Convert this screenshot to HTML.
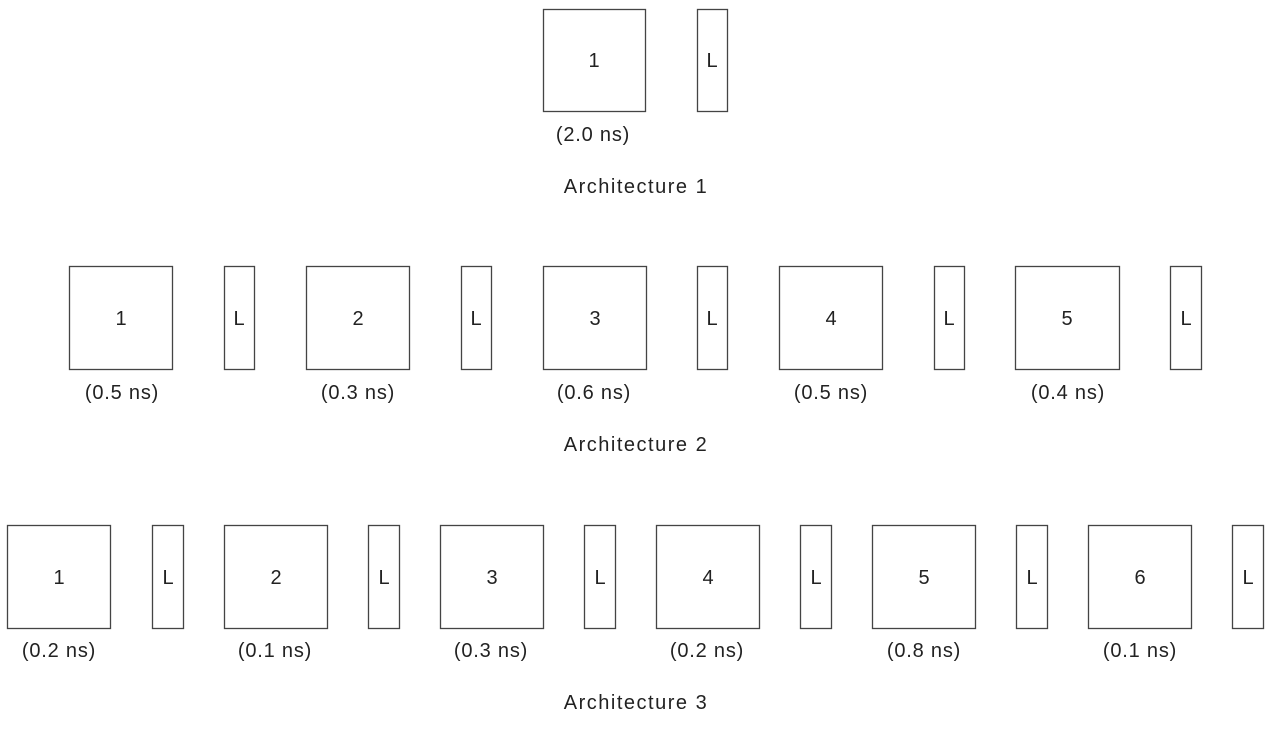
<!DOCTYPE html>
<html><head><style>
html,body{margin:0;padding:0;background:#fff;}
svg text{font-family:"Liberation Sans",sans-serif;font-size:20px;fill:#222;text-anchor:middle;}
svg text.a{letter-spacing:1.5px;}
svg text.n{letter-spacing:0.8px;}
</style></head><body>
<svg width="1266" height="742" xmlns="http://www.w3.org/2000/svg">
<g fill="#fff" stroke="#444" stroke-width="1.3">
<rect x="543.5" y="9.5" width="102" height="102"/>
<rect x="697.5" y="9.5" width="30" height="102"/>
<rect x="69.5" y="266.5" width="103" height="103"/><rect x="224.5" y="266.5" width="30" height="103"/>
<rect x="306.5" y="266.5" width="103" height="103"/><rect x="461.5" y="266.5" width="30" height="103"/>
<rect x="543.5" y="266.5" width="103" height="103"/><rect x="697.5" y="266.5" width="30" height="103"/>
<rect x="779.5" y="266.5" width="103" height="103"/><rect x="934.5" y="266.5" width="30" height="103"/>
<rect x="1015.5" y="266.5" width="104" height="103"/><rect x="1170.5" y="266.5" width="31" height="103"/>
<rect x="7.5" y="525.5" width="103" height="103"/><rect x="152.5" y="525.5" width="31" height="103"/>
<rect x="224.5" y="525.5" width="103" height="103"/><rect x="368.5" y="525.5" width="31" height="103"/>
<rect x="440.5" y="525.5" width="103" height="103"/><rect x="584.5" y="525.5" width="31" height="103"/>
<rect x="656.5" y="525.5" width="103" height="103"/><rect x="800.5" y="525.5" width="31" height="103"/>
<rect x="872.5" y="525.5" width="103" height="103"/><rect x="1016.5" y="525.5" width="31" height="103"/>
<rect x="1088.5" y="525.5" width="103" height="103"/><rect x="1232.5" y="525.5" width="31" height="103"/>
</g>
<text x="594" y="67">1</text><text x="712" y="67">L</text>
<text class="n" x="593" y="141">(2.0 ns)</text>
<text class="a" x="636" y="193">Architecture 1</text>

<text x="121" y="325">1</text><text x="239" y="325">L</text>
<text x="358" y="325">2</text><text x="476" y="325">L</text>
<text x="595" y="325">3</text><text x="712" y="325">L</text>
<text x="831" y="325">4</text><text x="949" y="325">L</text>
<text x="1067" y="325">5</text><text x="1186" y="325">L</text>
<text class="n" x="122" y="399">(0.5 ns)</text>
<text class="n" x="358" y="399">(0.3 ns)</text>
<text class="n" x="594" y="399">(0.6 ns)</text>
<text class="n" x="831" y="399">(0.5 ns)</text>
<text class="n" x="1068" y="399">(0.4 ns)</text>
<text class="a" x="636" y="451">Architecture 2</text>

<text x="59" y="584">1</text><text x="168" y="584">L</text>
<text x="276" y="584">2</text><text x="384" y="584">L</text>
<text x="492" y="584">3</text><text x="600" y="584">L</text>
<text x="708" y="584">4</text><text x="816" y="584">L</text>
<text x="924" y="584">5</text><text x="1032" y="584">L</text>
<text x="1140" y="584">6</text><text x="1248" y="584">L</text>
<text class="n" x="59" y="657">(0.2 ns)</text>
<text class="n" x="275" y="657">(0.1 ns)</text>
<text class="n" x="491" y="657">(0.3 ns)</text>
<text class="n" x="707" y="657">(0.2 ns)</text>
<text class="n" x="924" y="657">(0.8 ns)</text>
<text class="n" x="1140" y="657">(0.1 ns)</text>
<text class="a" x="636" y="709">Architecture 3</text>
</svg>
</body></html>
